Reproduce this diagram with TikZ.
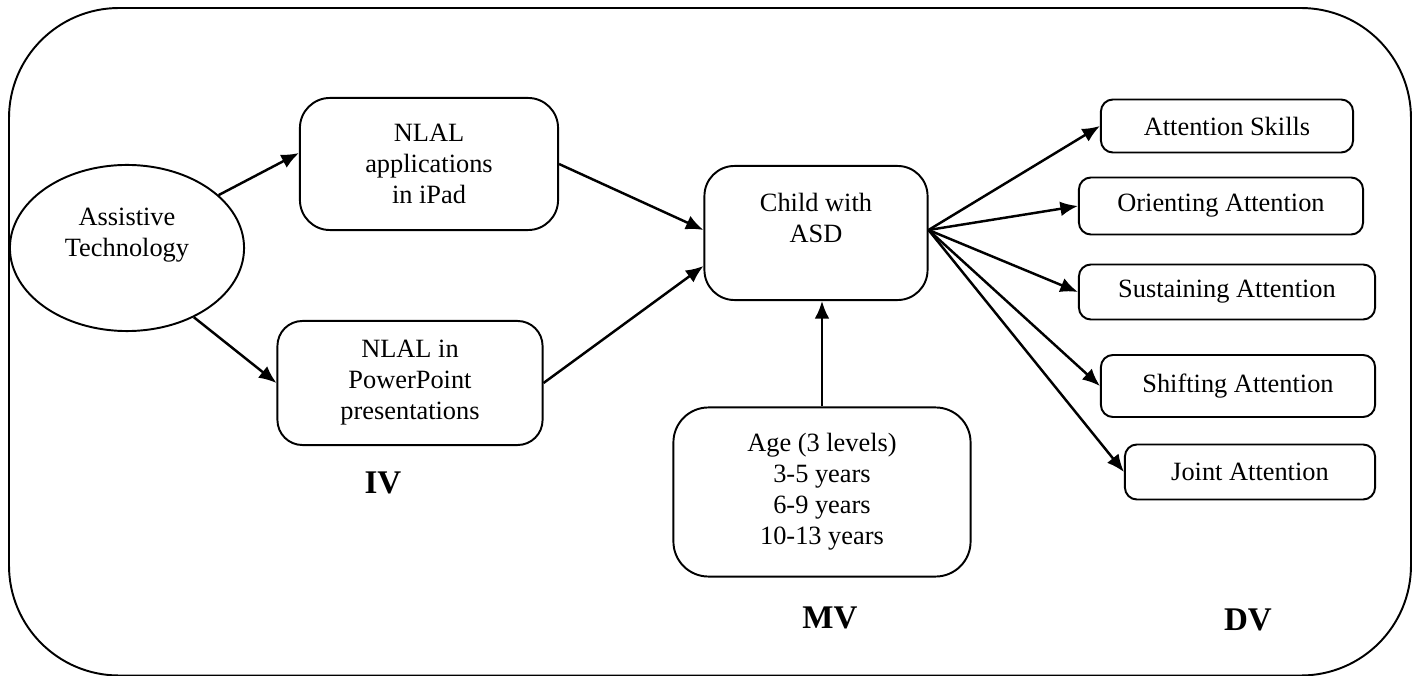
\documentclass[tikz,border=0pt]{standalone}
\usepackage{fontspec}
\setmainfont{Liberation Serif}
\usetikzlibrary{shapes.geometric,arrows.meta}

\begin{document}
\begin{tikzpicture}[x=0.01cm,y=-0.01cm]
  \tikzstyle{every node}+=[inner sep=0pt,align=center,font=\fontsize{7.5}{8.8}\selectfont]
  \tikzstyle{box}=[draw,line width=0.55pt,rounded corners=0.3cm]
  \tikzstyle{attn}=[draw,line width=0.55pt,rounded corners=0.12cm]
  \tikzstyle{arr}=[-{Latex[length=5pt,width=4.2pt]},line width=0.7pt]
  \tikzstyle{lbl}=[font=\fontsize{9.4}{11}\selectfont\bfseries]
  \useasboundingbox (0,0) rectangle (1420,676);
  \draw [line width=0.55pt,rounded corners=1.1cm] (9,8) rectangle (1411,675.5);
  \node [draw,ellipse,line width=0.55pt,minimum width=2.34cm,minimum height=1.66cm] (tech) at (127,248) {Assistive\\Technology\\\mbox{}};
  \node [box,minimum width=2.58cm,minimum height=1.32cm] (app) at (429,164) {NLAL\\applications\\in iPad};
  \node [box,rounded corners=0.25cm,minimum width=2.65cm,minimum height=1.24cm] (ppt) at (410,383) {NLAL in\\PowerPoint\\presentations};
  \node [box,minimum width=2.23cm,minimum height=1.34cm] (child) at (816,233) {Child with\\ASD\\\mbox{}};
  \node [box,rounded corners=0.35cm,minimum width=2.97cm,minimum height=1.69cm] (age) at (822,492) {Age (3 levels)\\3-5 years\\6-9 years\\10-13 years};
  \node [attn,minimum width=2.52cm,minimum height=0.53cm] (skills) at (1227,126) {Attention Skills};
  \node [attn,minimum width=2.84cm,minimum height=0.57cm] (orient) at (1221,206) {Orienting Attention};
  \node [attn,minimum width=2.96cm,minimum height=0.55cm] (sustain) at (1227,292) {Sustaining Attention};
  \node [attn,minimum width=2.74cm,minimum height=0.62cm] (shift) at (1238,386) {Shifting Attention};
  \node [attn,minimum width=2.50cm,minimum height=0.55cm] (joint) at (1250,472) {Joint Attention};
  \node [lbl] (iv) at (383,483) {IV};
  \node [lbl] (mv) at (830,618) {MV};
  \node [lbl] (dv) at (1248,620) {DV};
  \draw [arr] (tech.30) -- (app.west |- 0,153);
  \draw [arr] (tech.-46) -- (ppt.west);
  \draw [arr] (app.east) -- (child.west |- 0,230);
  \draw [arr] (ppt.east) -- (child.west |- 0,266);
  \draw [arr] (age.north) -- (age.north |- child.south);
  \draw [arr] (child.east |- 0,230) -- (skills.west);
  \draw [arr] (child.east |- 0,230) -- (orient.west);
  \draw [arr] (child.east |- 0,230) -- (sustain.west);
  \draw [arr] (child.east |- 0,230) -- (shift.west);
  \draw [arr] (child.east |- 0,230) -- (joint.west);
\end{tikzpicture}
\end{document}
